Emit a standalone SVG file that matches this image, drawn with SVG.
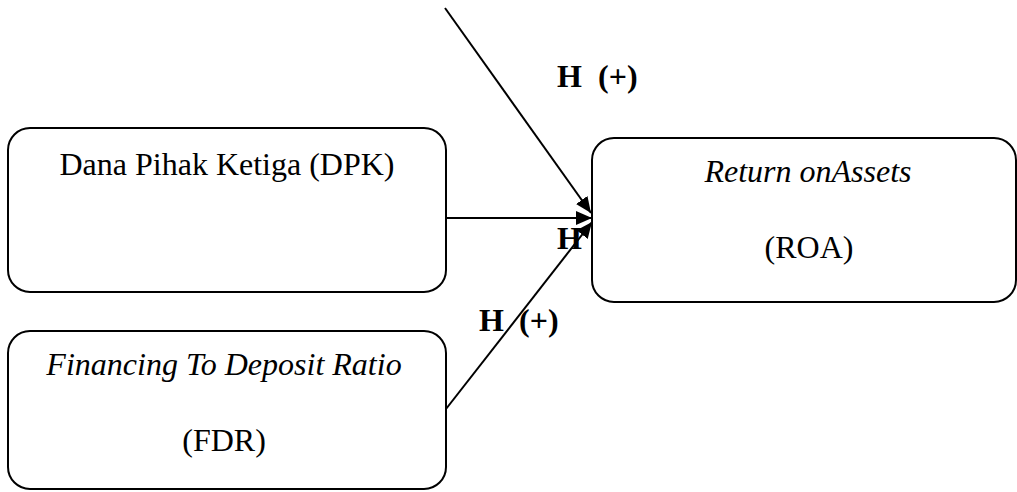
<svg xmlns="http://www.w3.org/2000/svg" width="1017" height="492" viewBox="0 0 1017 492">
<style>
.box{fill:#fff;stroke:#000;stroke-width:2}
.t{font-family:"Liberation Serif","Times New Roman",serif;font-size:32px;fill:#000;text-anchor:middle}
.i{font-style:italic}
.lbl{font-family:"Liberation Serif","Times New Roman",serif;font-size:32px;font-weight:bold;fill:#000}
.c{stroke:#000;stroke-width:2;fill:none}
</style>
<defs>
<marker id="ah" markerWidth="16" markerHeight="14" refX="16" refY="7" orient="auto" markerUnits="userSpaceOnUse">
<path d="M0,0 L16,7 L0,14 Z" fill="#000"/>
</marker>
</defs>
<g id="connectors">
<line class="c" x1="445" y1="8" x2="591" y2="213" marker-end="url(#ah)"/>
<line class="c" x1="446" y1="218" x2="592" y2="218" marker-end="url(#ah)"/>
<line class="c" x1="446" y1="409" x2="592" y2="222" marker-end="url(#ah)"/>
</g>
<g id="dpk">
<rect class="box" x="8" y="128" width="438" height="164" rx="22"/>
<text class="t" x="227" y="175">Dana Pihak Ketiga (DPK)</text>
</g>
<g id="fdr">
<rect class="box" x="8" y="331" width="438" height="158" rx="22"/>
<text class="t i" x="224" y="375">Financing To Deposit Ratio</text>
<text class="t" x="224" y="451">(FDR)</text>
</g>
<g id="roa">
<rect class="box" x="592" y="138" width="424" height="164" rx="22"/>
<text class="t i" x="808" y="182">Return onAssets</text>
<text class="t" x="809" y="258">(ROA)</text>
</g>
<g id="labels">
<text class="lbl" x="557" y="87">H</text>
<text class="lbl" x="598" y="87">(+)</text>
<text class="lbl" x="557" y="249">H</text>
<text class="lbl" x="479" y="331">H</text>
<text class="lbl" x="519" y="331">(+)</text>
</g>
</svg>
